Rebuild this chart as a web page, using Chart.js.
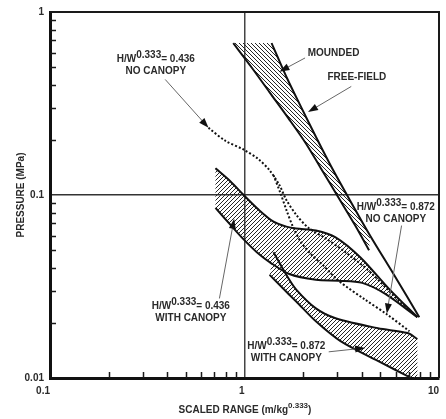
<!DOCTYPE html>
<html>
<head>
<meta charset="utf-8">
<script src="https://cdn.jsdelivr.net/npm/chart.js@4.4.0/dist/chart.umd.min.js"></script>
<style>
    html, body { margin: 0; padding: 0; background: #fff; }
</style>
</head>
<body>
<canvas id="grafico" width="446" height="419"></canvas>
<script>
// rotulos dos eixos (log-log)
const xTicks = [0.1, 1, 10];
const yTicks = [0.01, 0.1, 1];

// linha free-field (m/kg^0.333, MPa)
const freeFieldX = [1.378, 1.641, 1.955, 2.328, 2.773, 3.50, 4.42, 5.92, 7.92];
const freeFieldY = [0.676, 0.443, 0.302, 0.208, 0.145, 0.0928, 0.0601, 0.0361, 0.0215];

// borda esquerda da faixa "mounded"
const moundedX = [0.875, 1.091, 1.346, 1.680, 2.073, 2.468, 3.117, 3.71, 4.37];
const moundedY = [0.676, 0.496, 0.364, 0.263, 0.1907, 0.140, 0.0928, 0.0681, 0.0499];

// H/W = 0.436 com canopy (faixa)
const com436TopoX = [0.709, 0.845, 0.99, 1.184, 1.410, 1.641, 1.845, 2.328, 2.94, 3.935, 5.58, 7.74];
const com436TopoY = [0.140, 0.119, 0.100, 0.0830, 0.0715, 0.0672, 0.0656, 0.0640, 0.0587, 0.0457, 0.0304, 0.0215];
const com436BaseX = [0.709, 0.845, 0.99, 1.157, 1.346, 1.700, 2.328, 3.045, 4.03, 5.27, 7.74];
const com436BaseY = [0.0851, 0.0689, 0.0572, 0.0487, 0.0430, 0.0370, 0.0344, 0.0340, 0.0331, 0.0289, 0.0215];

// H/W = 0.872 com canopy (faixa)
const com872TopoX = [1.410, 1.641, 1.845, 2.328, 2.94, 4.85, 6.89, 7.74];
const com872TopoY = [0.0487, 0.0366, 0.0304, 0.0240, 0.0212, 0.0187, 0.0176, 0.0163];
const com872BaseX = [1.346, 1.641, 1.845, 2.328, 3.117, 4.85, 7.13];
const com872BaseY = [0.0366, 0.0296, 0.0262, 0.0204, 0.0159, 0.0124, 0.01006];

// sem canopy (pontilhadas)
const sem436X = [0.653, 0.797, 0.99, 1.184, 1.346, 1.513, 1.641, 1.845, 2.122, 2.615, 3.304, 4.42, 5.92, 7.74];
const sem436Y = [0.2326, 0.1979, 0.1770, 0.1564, 0.1364, 0.1132, 0.0940, 0.0780, 0.0664, 0.0579, 0.0487, 0.0380, 0.0278, 0.0215];
const sem872X = [1.410, 1.530, 1.641, 1.781, 1.955, 2.197, 2.526, 3.045, 4.17, 5.39, 7.05];
const sem872Y = [0.1282, 0.1025, 0.0830, 0.0664, 0.0551, 0.0475, 0.0414, 0.0340, 0.0268, 0.0223, 0.0180];

// anotacoes H/W
const rotuloValor = ['0.436', '0.872', '0.436', '0.872'];
const rotuloLinha2 = ['NO CANOPY', 'NO CANOPY', 'WITH CANOPY', 'WITH CANOPY'];
const rotuloX = [0.350, 6.0, 0.530, 1.641];
const rotuloY = [0.534, 0.083, 0.0237, 0.0144];

const textoSimples = ['MOUNDED', 'FREE-FIELD'];
const textoSimplesX = [2.87, 3.78];
const textoSimplesY = [0.575, 0.427];

// setas (origem -> ponta)
const setaDeX = [0.391, 2.048, 3.54, 6.42, 0.743, 2.71];
const setaDeY = [0.428, 0.561, 0.392, 0.0681, 0.0272, 0.0139];
const setaAteX = [0.653, 1.513, 2.122, 5.39, 0.885, 4.17];
const setaAteY = [0.233, 0.472, 0.284, 0.0225, 0.0742, 0.0146];

const fonte = '"Liberation Sans", Arial, sans-serif';

function pontos(xs, ys) {
    return xs.map((x, i) => ({ x: x, y: ys[i] }));
}

const canvas = document.getElementById('grafico');
const ctx = canvas.getContext('2d');

// hachura em pixels (sem antialias) pra ficar nitida
function criarHachura(direcao) {
    const c = document.createElement('canvas');
    c.width = 4;
    c.height = 4;
    const g = c.getContext('2d');
    g.fillStyle = '#262626';
    for (let i = 0; i < 4; i++) {
        if (direcao == '/') {
            g.fillRect(i, 3 - i, 1, 1);
        } else {
            g.fillRect(i, i, 1, 1);
        }
    }
    return ctx.createPattern(c, 'repeat');
}

const hachuraA = criarHachura('\\');
const hachuraB = criarHachura('/');

function faixa(dados, padrao) {
    return {
        data: dados,
        fill: 'shape',
        backgroundColor: padrao,
        borderWidth: 0,
        borderColor: 'rgba(0,0,0,0)',
        pointRadius: 0,
        tension: 0
    };
}

function linha(xs, ys, tracejado) {
    return {
        data: pontos(xs, ys),
        fill: false,
        borderColor: '#111',
        borderWidth: 2,
        borderDash: tracejado ? [2, 2] : [],
        pointRadius: 0,
        tension: 0.3
    };
}

// poligonos das areas hachuradas
const areaMounded = pontos(freeFieldX.slice(0, 7), freeFieldY.slice(0, 7)).concat(pontos(moundedX, moundedY).reverse());
const area436 = pontos(com436TopoX, com436TopoY).concat(pontos(com436BaseX, com436BaseY).reverse());
const area872 = pontos(com872TopoX, com872TopoY)
    .concat([{ x: com872TopoX[com872TopoX.length - 1], y: yTicks[0] }])
    .concat(pontos(com872BaseX, com872BaseY).reverse());

const anotacoes = {
    id: 'anotacoes',
    afterDraw(chart) {
        const c = chart.ctx;
        const { left, right, top, bottom } = chart.chartArea;
        const sx = chart.scales.x;
        const sy = chart.scales.y;
        c.save();

        // bordas superior e direita
        c.strokeStyle = '#1a1a1a';
        c.lineWidth = 2;
        c.beginPath();
        c.moveTo(left, top);
        c.lineTo(right, top);
        c.lineTo(right, bottom);
        c.stroke();

        // marcas menores para dentro
        c.lineWidth = 1.5;
        c.beginPath();
        [0.01, 0.1].forEach(d => {
            for (let m = 2; m <= 9; m++) {
                const y = Math.round(sy.getPixelForValue(m * d)) + 0.5;
                c.moveTo(left, y);
                c.lineTo(left + 6, y);
            }
        });
        [0.1, 1].forEach(d => {
            for (let m = 2; m <= 9; m++) {
                const x = Math.round(sx.getPixelForValue(m * d)) + 0.5;
                c.moveTo(x, bottom);
                c.lineTo(x, bottom - 6);
            }
        });
        c.stroke();

        c.fillStyle = '#2a2a2a';
        c.textBaseline = 'alphabetic';

        // titulo eixo y
        c.save();
        c.translate(20, (top + bottom) / 2);
        c.rotate(-Math.PI / 2);
        c.font = 'bold 10px ' + fonte;
        c.textAlign = 'center';
        c.fillText('PRESSURE (MPa)', 0, 4);
        c.restore();

        // titulo eixo x
        c.font = 'bold 10px ' + fonte;
        c.textAlign = 'left';
        const t1 = 'SCALED RANGE (m/kg';
        const w1 = c.measureText(t1).width;
        c.font = 'bold 8px ' + fonte;
        const w2 = c.measureText('0.333').width;
        c.font = 'bold 10px ' + fonte;
        const w3 = c.measureText(')').width;
        let xt = 245 - (w1 + w2 + w3) / 2;
        c.fillText(t1, xt, 413);
        c.font = 'bold 8px ' + fonte;
        c.fillText('0.333', xt + w1, 408);
        c.font = 'bold 10px ' + fonte;
        c.fillText(')', xt + w1 + w2, 413);

        // rotulos H/W
        rotuloValor.forEach((v, i) => {
            const cx = sx.getPixelForValue(rotuloX[i]);
            const by = sy.getPixelForValue(rotuloY[i]);
            c.font = 'bold 10px ' + fonte;
            const a = c.measureText('H/W').width;
            const b = c.measureText('0.333').width;
            const d = c.measureText('= ' + v).width;
            const x0 = cx - (a + b + d) / 2;
            c.textAlign = 'left';
            c.fillText('H/W', x0, by);
            c.fillText('0.333', x0 + a, by - 4);
            c.fillText('= ' + v, x0 + a + b, by);
            c.textAlign = 'center';
            c.fillText(rotuloLinha2[i], cx, by + 12);
        });

        c.textAlign = 'center';
        textoSimples.forEach((t, i) => {
            c.fillText(t, sx.getPixelForValue(textoSimplesX[i]), sy.getPixelForValue(textoSimplesY[i]));
        });

        // setas
        setaDeX.forEach((v, i) => {
            const x1 = sx.getPixelForValue(v);
            const y1 = sy.getPixelForValue(setaDeY[i]);
            const x2 = sx.getPixelForValue(setaAteX[i]);
            const y2 = sy.getPixelForValue(setaAteY[i]);
            const ang = Math.atan2(y2 - y1, x2 - x1);
            const cs = Math.cos(ang), sn = Math.sin(ang);
            c.strokeStyle = '#666';
            c.lineWidth = 1;
            c.beginPath();
            c.moveTo(x1, y1);
            c.lineTo(x2 - 6 * cs, y2 - 6 * sn);
            c.stroke();
            c.fillStyle = '#111';
            c.beginPath();
            c.moveTo(x2, y2);
            c.lineTo(x2 - 10 * cs + 3.5 * sn, y2 - 10 * sn - 3.5 * cs);
            c.lineTo(x2 - 10 * cs - 3.5 * sn, y2 - 10 * sn + 3.5 * cs);
            c.closePath();
            c.fill();
        });

        c.restore();
    }
};

function perto(v, lista) {
    return lista.some(t => Math.abs(v - t) / t < 1e-6);
}

new Chart(canvas, {
    type: 'line',
    data: {
        datasets: [
            linha(freeFieldX, freeFieldY, false),
            linha(moundedX, moundedY, false),
            linha(com436TopoX, com436TopoY, false),
            linha(com436BaseX, com436BaseY, false),
            linha(com872TopoX, com872TopoY, false),
            linha(com872BaseX, com872BaseY, false),
            linha(sem436X, sem436Y, true),
            linha(sem872X, sem872Y, true),
            faixa(areaMounded, hachuraA),
            faixa(area436, hachuraB),
            faixa(area872, hachuraB)
        ]
    },
    options: {
        responsive: false,
        animation: false,
        layout: { padding: { left: 0, right: 2, top: 7, bottom: 0 } },
        plugins: {
            legend: { display: false },
            tooltip: { enabled: false }
        },
        scales: {
            x: {
                type: 'logarithmic',
                min: 0.1,
                max: 10,
                afterFit: (s) => { s.height = 41; },
                border: { display: true, width: 3, color: '#111' },
                grid: {
                    drawTicks: false,
                    lineWidth: 1.5,
                    color: (c) => (c.tick && perto(c.tick.value, [1]) ? '#444' : 'rgba(0,0,0,0)')
                },
                ticks: {
                    autoSkip: false,
                    maxRotation: 0,
                    align: 'end',
                    padding: 7,
                    color: '#2a2a2a',
                    font: { family: fonte, size: 10, weight: 'bold' },
                    callback: (v) => (perto(v, xTicks) ? String(v) : '')
                }
            },
            y: {
                type: 'logarithmic',
                min: 0.01,
                max: 1,
                afterFit: (s) => { s.width = 50; },
                border: { display: true, width: 3, color: '#111' },
                grid: {
                    drawTicks: false,
                    lineWidth: 1.5,
                    color: (c) => (c.tick && perto(c.tick.value, [0.1]) ? '#333' : 'rgba(0,0,0,0)')
                },
                ticks: {
                    autoSkip: false,
                    padding: 6,
                    color: '#2a2a2a',
                    font: { family: fonte, size: 10, weight: 'bold' },
                    callback: (v) => (perto(v, yTicks) ? String(v) : '')
                }
            }
        }
    },
    plugins: [anotacoes]
});
</script>
</body>
</html>
